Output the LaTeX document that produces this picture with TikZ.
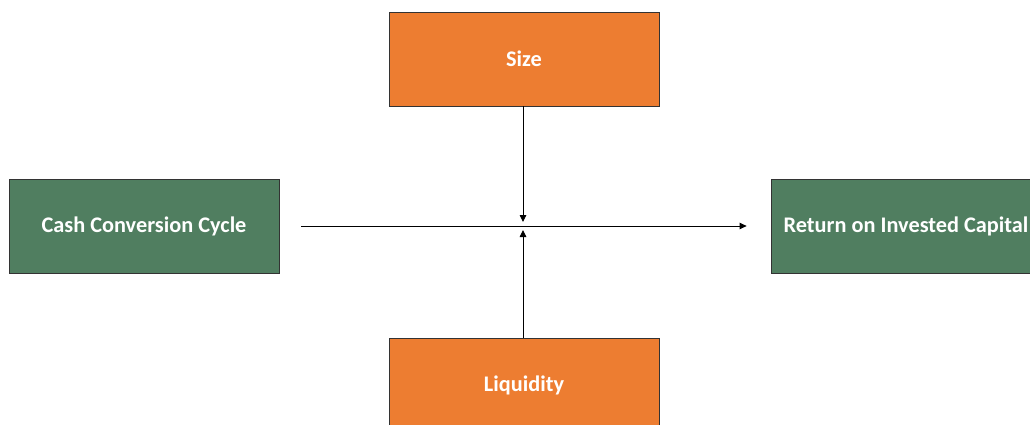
\documentclass[tikz,border=0pt]{standalone}
\usepackage{fontspec}
\setmainfont{Carlito}
\usepackage{tikz}
\usetikzlibrary{arrows.meta}
\usetikzlibrary{positioning}
\definecolor{boxorange}{RGB}{237,125,49}
\definecolor{boxgreen}{RGB}{80,126,96}
\tikzset{factor/.style = {draw=black!80, line width=0.8pt, fill=boxorange,
                          minimum width=270pt, minimum height=94pt, inner sep=0pt,
                          text=white, font=\fontsize{22.3}{26}\selectfont\bfseries},
         measure/.style = {factor, fill=boxgreen},
         link/.style = {line width=0.9pt, -{Triangle[length=7pt,width=6.5pt]}}}

\begin{document}
\begin{tikzpicture}[x=1pt,y=-1pt]
        \useasboundingbox (0,0) rectangle (1030,425);
        \clip (0,0) rectangle (1030,425);
        \node[factor] (size) at (524,59) {Size};
        \node[factor] (liquidity) at (524,385) {Liquidity};
        \node[measure] (ccc) at (144,226) {Cash Conversion Cycle};
        \node[measure] (roic) at (906,226) {Return on Invested Capital};
        \coordinate (mid) at (523,226);
        \draw[link, shorten <=22pt, shorten >=24pt] (ccc.east) -- (roic.west);
        \draw[link, shorten >=4pt] (size.south -| mid) -- (mid);
        \draw[link, shorten >=4pt] (liquidity.north -| mid) -- (mid);
    \end{tikzpicture}
\end{document}
